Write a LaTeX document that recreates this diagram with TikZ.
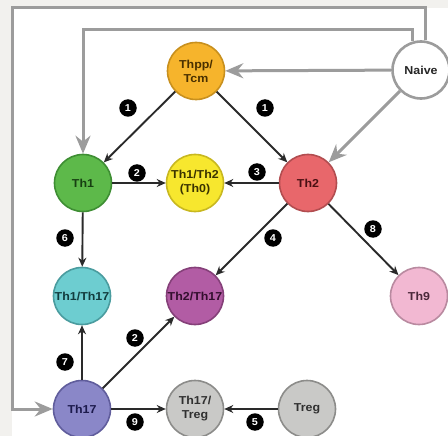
\documentclass[tikz,border=0pt]{standalone}
\usepackage{fontspec}
\setmainfont{Liberation Sans}
\newfontfamily\nodefont[FakeStretch=1.08]{Liberation Sans}
\usetikzlibrary{arrows.meta}
\definecolor{bgc}{HTML}{F2F1EE}
\definecolor{lgry}{HTML}{9C9C9C}
\definecolor{blkl}{HTML}{2A2A2A}
\definecolor{orF}{HTML}{F6B42C}\definecolor{orD}{HTML}{C8901E}\definecolor{orT}{HTML}{4A3000}
\definecolor{grF}{HTML}{5DB94A}\definecolor{grD}{HTML}{3E8E33}\definecolor{grT}{HTML}{173F12}
\definecolor{yeF}{HTML}{F7E72E}\definecolor{yeD}{HTML}{C8B820}\definecolor{yeT}{HTML}{3A3300}
\definecolor{reF}{HTML}{E8676B}\definecolor{reD}{HTML}{B24D50}\definecolor{reT}{HTML}{4A1013}
\definecolor{cyF}{HTML}{6DCDD0}\definecolor{cyD}{HTML}{4A9C9F}\definecolor{cyT}{HTML}{123C3E}
\definecolor{puF}{HTML}{B25CA4}\definecolor{puD}{HTML}{854079}\definecolor{puT}{HTML}{330F2E}
\definecolor{piF}{HTML}{F2B8D2}\definecolor{piD}{HTML}{B98AA0}\definecolor{piT}{HTML}{4A283A}
\definecolor{blF}{HTML}{8A87C8}\definecolor{blD}{HTML}{605D9C}\definecolor{blT}{HTML}{1C1A4C}
\definecolor{gyF}{HTML}{C9C9C7}\definecolor{gyD}{HTML}{8C8C8A}\definecolor{gyT}{HTML}{303030}
\begin{document}
\begin{tikzpicture}[x=1pt,y=-1pt,
 cell/.style={circle, minimum size=57pt, inner sep=0pt, line width=1.6pt,
   font=\nodefont\bfseries\fontsize{11.5}{14}\selectfont, align=center},
 badge/.style={circle, fill=black, minimum size=17.5pt, inner sep=0pt, text=white,
   font=\nodefont\bfseries\fontsize{10}{10}\selectfont},
 blk/.style={draw=blkl, line width=1.9pt, -{Stealth[length=9pt,width=8pt]}},
 gry/.style={draw=lgry, line width=3pt, -{Stealth[length=18pt,width=15pt,inset=6pt]}},
]
\fill[bgc] (0,0) rectangle (448,436);
\fill[white] (12,8) rectangle (448,436);
\useasboundingbox (0,0) rectangle (448,436);

% nodes
\node[cell, fill=orF, draw=orD, text=orT] (thpp) at (196,71) {Thpp/\\Tcm};
\node[cell, fill=white, draw=lgry, line width=2.6pt, text=black!85] (naive) at (421,70) {Naive};
\node[cell, fill=grF, draw=grD, text=grT] (th1) at (83,183) {Th1};
\node[cell, fill=yeF, draw=yeD, text=yeT] (th0) at (195,183) {Th1/Th2\\(Th0)};
\node[cell, fill=reF, draw=reD, text=reT] (th2) at (308,183) {Th2};
\node[cell, fill=cyF, draw=cyD, text=cyT] (th117) at (82,296) {Th1/Th17};
\node[cell, fill=puF, draw=puD, text=puT] (th217) at (195,296) {Th2/Th17};
\node[cell, fill=piF, draw=piD, text=piT] (th9) at (419,296) {Th9};
\node[cell, fill=blF, draw=blD, text=blT] (th17) at (82,409) {Th17};
\node[cell, fill=gyF, draw=gyD, text=gyT] (th17treg) at (195,409) {Th17/\\Treg};
\node[cell, fill=gyF, draw=gyD, text=gyT] (treg) at (307,409) {Treg};

% black connectors
\draw[blk] (thpp) -- (th1);
\draw[blk] (thpp) -- (th2);
\draw[blk] (th1) -- (th0);
\draw[blk] (th2) -- (th0);
\draw[blk] (th1) -- (th117);
\draw[blk] (th2) -- (th217);
\draw[blk] (th2) -- (th9);
\draw[blk] (th17) -- (th117);
\draw[blk] (th17) -- (th217);
\draw[blk] (th17) -- (th17treg);
\draw[blk] (treg) -- (th17treg);

% gray connectors from Naive
\draw[gry] (naive) -- (thpp);
\draw[gry] (naive) -- (th2);
\coordinate (ci) at (th1 |- 0,30);
\draw[gry] (naive.106) |- (ci) -- (th1);
\coordinate (co) at (12,8);
\draw[gry] (naive.82) |- (co) |- (th17);

% badges
\node[badge] (b1) at (128,108) {1};
\node[badge] (b2) at (265,108) {1};
\node[badge] (b3) at (137,173) {2};
\node[badge] (b4) at (257,172) {3};
\node[badge] (b5) at (65,238) {6};
\node[badge] (b6) at (273,238) {4};
\node[badge] (b7) at (373,229) {8};
\node[badge] (b8) at (135,338) {2};
\node[badge] (b9) at (65,362) {7};
\node[badge] (b10) at (135,422) {9};
\node[badge] (b11) at (255,422) {5};
\end{tikzpicture}
\end{document}
